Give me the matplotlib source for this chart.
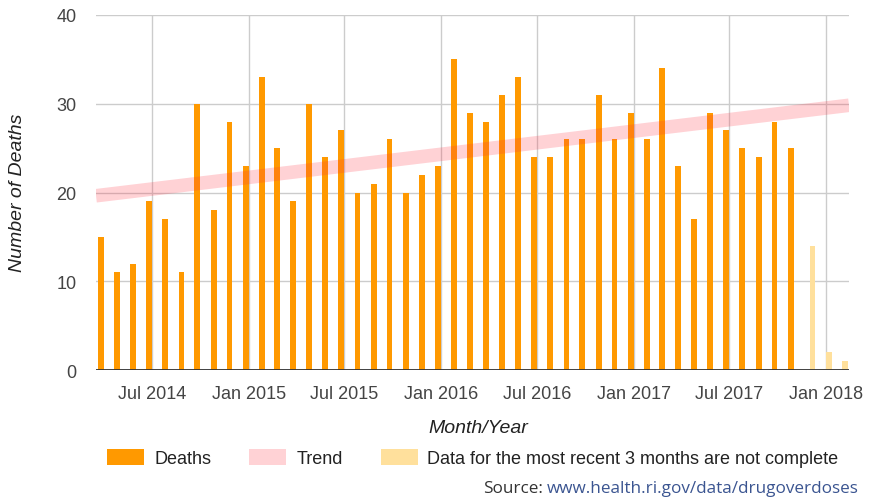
import numpy as np
import pandas as pd
import matplotlib
matplotlib.use("Agg")
import matplotlib.pyplot as plt
import matplotlib.dates as mdates
from matplotlib.patches import Patch
from matplotlib import rcParams

rcParams.update({
    "font.family": ["Liberation Sans", "DejaVu Sans"],
    "font.size": 13,
})

# monthly overdose deaths, Apr 2014 - Nov 2017
months = pd.date_range("2014-04-01", "2017-11-01", freq="MS")
deaths = [15, 11, 12, 19, 17, 11, 30, 18, 28, 23, 33, 25,
          19, 30, 24, 27, 20, 21, 26, 20, 22, 23, 35, 29,
          28, 31, 33, 24, 24, 26, 26, 31, 26, 29, 26, 34,
          23, 17, 29, 27, 25, 24, 28, 25]

# most recent months, data incomplete
recent_months = pd.to_datetime(["2017-12-01", "2018-01-01", "2018-02-01"])
recent_deaths = [14, 2, 1]

x_start = pd.Timestamp("2014-03-17")
x_end = pd.Timestamp("2018-02-14")

c_deaths = "#ff9900"
c_recent = "#ffe09c"
c_trend = "#ff3344"
a_trend = 0.22

fig = plt.figure(figsize=(8.84, 5.02), dpi=100)
ax = fig.add_axes([96 / 884, 131 / 502, 753 / 884, 355 / 502])

xd = mdates.date2num(months)
xr = mdates.date2num(recent_months)
off = 5.5
ax.bar(xd - off, deaths, width=11.0, color=c_deaths, zorder=2)
ax.bar(xr + off, recent_deaths, width=11.0, color=c_recent, zorder=2)

# linear trend of the Deaths series, drawn across the whole axis
coef = np.polyfit(xd, deaths, 1)
xt = mdates.date2num([x_start, x_end])
ax.plot(xt, np.polyval(coef, xt), color=c_trend, alpha=a_trend, lw=9.8,
        solid_capstyle="butt", zorder=3)

ax.set_xlim(xt[0], xt[1])
ax.set_ylim(0, 40)
ax.set_yticks([0, 10, 20, 30, 40])
ax.xaxis.set_major_locator(mdates.MonthLocator(bymonth=[1, 7]))
ax.xaxis.set_major_formatter(mdates.DateFormatter("%b %Y"))
ax.tick_params(axis="both", length=0, labelcolor="#444444", labelsize=13)
ax.tick_params(axis="x", pad=11)
ax.tick_params(axis="y", pad=14)

for s in ax.spines.values():
    s.set_visible(False)
ax.grid(True, color="#cccccc", lw=1)
ax.set_axisbelow(True)
ax.axhline(0, color="#333333", lw=1.3, zorder=4)

fig.text(18 / 884, 1 - 193 / 502, "Number of Deaths", rotation=90,
         ha="center", va="center", fontsize=14, style="italic", color="#222222")
fig.text(478 / 884, 1 - 429 / 502, "Month/Year", ha="center", va="center",
         fontsize=14, style="italic", color="#222222")

handles = [Patch(facecolor=c_deaths),
           Patch(facecolor=c_trend, alpha=a_trend),
           Patch(facecolor=c_recent)]
labels = ["Deaths", "Trend", "Data for the most recent 3 months are not complete"]
fig.legend(handles, labels, loc="center", bbox_to_anchor=(473 / 884, 1 - 459 / 502),
           ncol=3, frameon=False, fontsize=13, handlelength=2.05, handleheight=1.0,
           handletextpad=0.55, columnspacing=2.1, labelcolor="#222222",
           borderpad=0, borderaxespad=0)

url = fig.text(859 / 884, 1 - 489 / 502, "www.health.ri.gov/data/drugoverdoses",
               ha="right", va="center", fontsize=12.3, family="Open Sans", color="#3b5591")
r = fig.canvas.get_renderer()
bb = url.get_window_extent(renderer=r)
fig.text(bb.x0 / 884 - 4 / 884, 1 - 489 / 502, "Source:", ha="right", va="center",
         fontsize=12.3, family="Open Sans", color="#333333")

fig.savefig("out.png", dpi=100)
